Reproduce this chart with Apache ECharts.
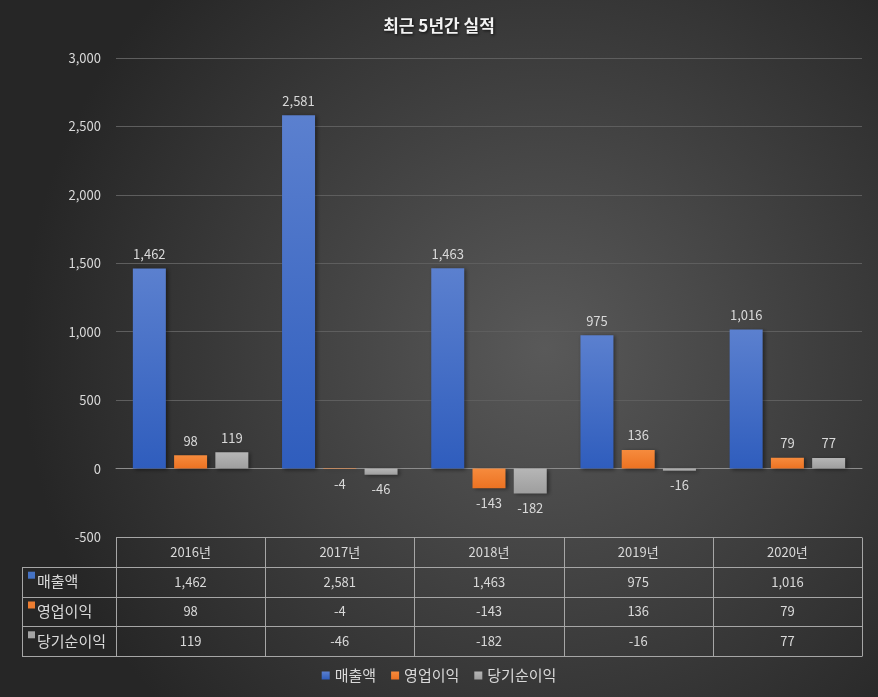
<!DOCTYPE html>
<html>
<head>
<meta charset="utf-8">
<script src="https://cdn.jsdelivr.net/npm/echarts@6/dist/echarts.min.js"></script>
<style>
  html, body { margin: 0; padding: 0; }
  #chart { width: 878px; height: 697px; }
</style>
</head>
<body>
<div id="chart"></div>
<script>
  'use strict';

  var categories = ['2016년', '2017년', '2018년', '2019년', '2020년'];
  var seriesNames = ['매출액', '영업이익', '당기순이익'];
  var sales = [1462, 2581, 1463, 975, 1016];
  var opProfit = [98, -4, -143, 136, 79];
  var netProfit = [119, -46, -182, -16, 77];
  var yTicks = [-500, 0, 500, 1000, 1500, 2000, 2500, 3000];

  var FONT = '"Noto Sans CJK KR", "Noto Sans", sans-serif';
  var TEXT = '#d9d9d9';
  var LINE = '#a6a6a6';
  var colors = ['#4472c4', '#ed7d31', '#a5a5a5'];

  function comma(v){
    var s = String(Math.abs(v)).replace(/\B(?=(\d{3})+(?!\d))/g, ',');
    return (v < 0 ? '-' : '') + s;
  }

  function grad(top, bottom){
    return new echarts.graphic.LinearGradient(0, 0, 0, 1, [
      {offset: 0, color: top},
      {offset: 1, color: bottom}
    ]);
  }

  var fills = [
    grad('#5b80cf', '#2f5dbd'),
    grad('#f68b3d', '#ec7222'),
    grad('#b6b6b6', '#9e9e9e')
  ];

  function toItems(values){
    return values.map(function(v){
      return {
        value: v,
        label: {position: v < 0 ? 'bottom' : 'top'}
      };
    });
  }

  var chart = echarts.init(document.getElementById('chart'));

  var options = {
    backgroundColor: new echarts.graphic.RadialGradient(0.62, 0.5, 0.75, [
      {offset: 0, color: '#595959'},
      {offset: 1, color: '#262626'}
    ]),
    title: {
      text: '최근 5년간 실적',
      left: 'center',
      top: 12,
      textStyle: {
        color: '#f2f2f2',
        fontFamily: FONT,
        fontSize: 17,
        fontWeight: 'bold',
        textShadowColor: 'rgba(0,0,0,0.8)',
        textShadowBlur: 3,
        textShadowOffsetX: 1,
        textShadowOffsetY: 1
      }
    },
    legend: {
      bottom: 9,
      left: 'center',
      icon: 'rect',
      itemWidth: 8,
      itemHeight: 8,
      itemGap: 15,
      data: seriesNames,
      textStyle: {color: TEXT, fontFamily: FONT, fontSize: 15}
    },
    grid: {
      left: 116,
      right: 16,
      top: 58,
      bottom: 160,
      containLabel: false
    },
    xAxis: {
      type: 'category',
      data: categories,
      axisTick: {show: false},
      axisLabel: {show: false},
      axisLine: {onZero: true, lineStyle: {color: '#8c8c8c', width: 1}}
    },
    yAxis: {
      type: 'value',
      min: yTicks[0],
      max: yTicks[yTicks.length - 1],
      interval: 500,
      axisLine: {show: false},
      axisTick: {show: false},
      axisLabel: {
        color: TEXT,
        fontFamily: FONT,
        fontSize: 13,
        margin: 15,
        formatter: comma
      },
      splitLine: {lineStyle: {color: '#5e5e5e', width: 1}}
    },
    series: [sales, opProfit, netProfit].map(function(values, i){
      return {
        name: seriesNames[i],
        type: 'bar',
        data: toItems(values),
        barWidth: 33,
        barGap: '25%',
        itemStyle: {
          color: fills[i],
          shadowColor: 'rgba(0,0,0,0.45)',
          shadowBlur: 4,
          shadowOffsetX: 2,
          shadowOffsetY: 1
        },
        label: {
          show: true,
          distance: 8,
          color: TEXT,
          fontFamily: FONT,
          fontSize: 13,
          formatter: function(p){ return comma(p.value); }
        }
      };
    }),
    color: colors
  };

  chart.setOption(options, true);

  // data table under the plot, built from the same arrays
  function buildTable(){
    var x0 = chart.convertToPixel({xAxisIndex: 0}, categories[0]);
    var x1 = chart.convertToPixel({xAxisIndex: 0}, categories[1]);
    var band = x1 - x0;
    var left = x0 - band / 2;
    var right = left + band * categories.length;
    var top = chart.convertToPixel({yAxisIndex: 0}, yTicks[0]);
    var rowH = 29.8;
    var labelLeft = 22;
    var rows = [sales, opProfit, netProfit];
    var els = [];
    var ls = {stroke: LINE, lineWidth: 1};

    // horizontal lines
    for (var r = 0; r <= rows.length + 1; r++){
      var y = Math.round(top + r * rowH) + 0.5;
      els.push({type: 'line', silent: true,
        shape: {x1: r === 0 ? left : labelLeft, y1: y, x2: right, y2: y}, style: ls});
    }
    // vertical lines
    var bottom = Math.round(top + (rows.length + 1) * rowH) + 0.5;
    for (var c = 0; c <= categories.length; c++){
      var x = Math.round(left + c * band) + 0.5;
      els.push({type: 'line', silent: true,
        shape: {x1: x, y1: Math.round(top) + 0.5, x2: x, y2: bottom}, style: ls});
    }
    els.push({type: 'line', silent: true,
      shape: {x1: labelLeft + 0.5, y1: Math.round(top + rowH) + 0.5, x2: labelLeft + 0.5, y2: bottom}, style: ls});

    // header
    categories.forEach(function(cat, i){
      els.push({type: 'text', silent: true,
        style: {x: left + band * (i + 0.5), y: top + rowH / 2, text: cat,
          fill: TEXT, font: '13px ' + FONT, align: 'center', verticalAlign: 'middle'}});
    });

    // rows
    rows.forEach(function(values, r){
      var cy = top + rowH * (r + 1.5);
      els.push({type: 'rect', silent: true,
        shape: {x: labelLeft + 6, y: cy - 10, width: 7, height: 7},
        style: {fill: colors[r]}});
      els.push({type: 'text', silent: true,
        style: {x: labelLeft + 15, y: cy, text: seriesNames[r],
          fill: TEXT, font: '15px ' + FONT, align: 'left', verticalAlign: 'middle'}});
      values.forEach(function(v, i){
        els.push({type: 'text', silent: true,
          style: {x: left + band * (i + 0.5), y: cy, text: comma(v),
            fill: TEXT, font: '13px ' + FONT, align: 'center', verticalAlign: 'middle'}});
      });
    });

    chart.setOption({graphic: {elements: els}});
  }

  buildTable();
</script>
</body>
</html>
